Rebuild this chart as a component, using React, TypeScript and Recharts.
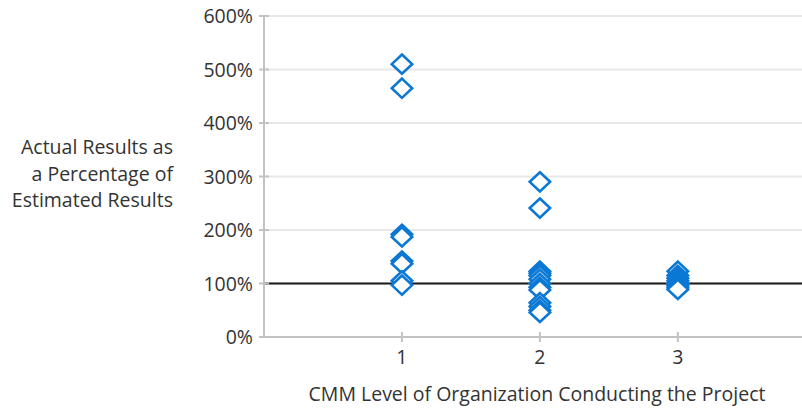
import React from 'react';
import {
  ScatterChart,
  Scatter,
  XAxis,
  YAxis,
  CartesianGrid,
  ReferenceLine,
} from 'recharts';

// CMM level per column, and the results (percent)
const levels = [1, 2, 3];
const level1Results = [510, 465, 192, 187, 142, 137, 105, 97];
const level2Results = [290, 241, 123, 119, 115, 108, 100, 93, 88, 64, 57, 50, 46];
const level3Results = [123, 115, 110, 105, 100, 96, 92, 89];
const yTicks = [0, 100, 200, 300, 400, 500, 600];
const yTitleLines = ['Actual Results as', 'a Percentage of', 'Estimated Results'];
const xTitle = 'CMM Level of Organization Conducting the Project';

const resultsByLevel = [level1Results, level2Results, level3Results];
const points = levels.flatMap((level, i) =>
  resultsByLevel[i].map(result => ({ level, result }))
);

const FONT = '"Open Sans", "Noto Sans", sans-serif';
const FONT_SIZE = 19.5;
const TEXT = '#333333';
const AXIS = '#c3c3c3';
const BLUE = '#0a78d4';
const AXIS_X = 264;
const AXIS_Y = 337;

// 菱形マーカー
const Diamond = (props: any) => {
  const { cx, cy } = props;
  if (cx == null || cy == null) return null;
  const w = 10.2;
  const h = 9.6;
  return (
    <path
      d={`M${cx},${cy - h} L${cx + w},${cy} L${cx},${cy + h} L${cx - w},${cy} Z`}
      fill="#ffffff"
      stroke={BLUE}
      strokeWidth={2.6}
      strokeLinejoin="miter"
    />
  );
};

const YTick = (props: any) => {
  const { y, payload } = props;
  return (
    <g>
      <line x1={AXIS_X - 5} x2={AXIS_X + 5} y1={y} y2={y} stroke={AXIS} strokeWidth={2} />
      <text x={AXIS_X - 11} y={y} dy="0.36em" textAnchor="end" fontSize={FONT_SIZE} fill={TEXT} fontFamily={FONT}>
        {`${payload.value}%`}
      </text>
    </g>
  );
};

const XTick = (props: any) => {
  const { x, payload } = props;
  return (
    <g>
      <line x1={x} x2={x} y1={AXIS_Y - 5} y2={AXIS_Y + 5} stroke={AXIS} strokeWidth={2} />
      <text x={x} y={AXIS_Y + 20} dy="0.36em" textAnchor="middle" fontSize={FONT_SIZE} fill={TEXT} fontFamily={FONT}>
        {payload.value}
      </text>
    </g>
  );
};

const XTitle = (props: any) => {
  const { viewBox } = props;
  const cx = viewBox.x + viewBox.width / 2 + 4;
  return (
    <text x={cx} y={AXIS_Y + 57} dy="0.36em" textAnchor="middle" fontSize={FONT_SIZE} fill={TEXT} fontFamily={FONT}>
      {xTitle}
    </text>
  );
};

export default function App() {
  return (
    <div style={{ position: 'relative', width: 802, height: 408, fontFamily: FONT }}>
      <style>{'body { margin: 0; }'}</style>
      <ScatterChart width={802} height={408} margin={{ top: 16, right: 0, bottom: 0, left: 0 }}>
        <CartesianGrid vertical={false} stroke="#e8e8e8" strokeWidth={2} />
        <XAxis
          type="number"
          dataKey="level"
          domain={[0, 3.9]}
          ticks={levels}
          height={71}
          axisLine={{ stroke: AXIS, strokeWidth: 2 }}
          tickLine={false}
          tick={<XTick />}
          label={{ content: <XTitle /> }}
        />
        <YAxis
          type="number"
          dataKey="result"
          domain={[0, 600]}
          ticks={yTicks}
          width={AXIS_X}
          axisLine={{ stroke: AXIS, strokeWidth: 2 }}
          tickLine={false}
          tick={<YTick />}
        />
        <ReferenceLine y={100} stroke="#1a1a1a" strokeWidth={2} />
        <Scatter data={points} shape={<Diamond />} isAnimationActive={false} />
      </ScatterChart>
      <div
        style={{
          position: 'absolute',
          left: 0,
          top: 134,
          width: 173,
          textAlign: 'right',
          fontSize: FONT_SIZE,
          lineHeight: '26.5px',
          color: TEXT,
        }}
      >
        {yTitleLines.map(line => (
          <div key={line}>{line}</div>
        ))}
      </div>
    </div>
  );
}
